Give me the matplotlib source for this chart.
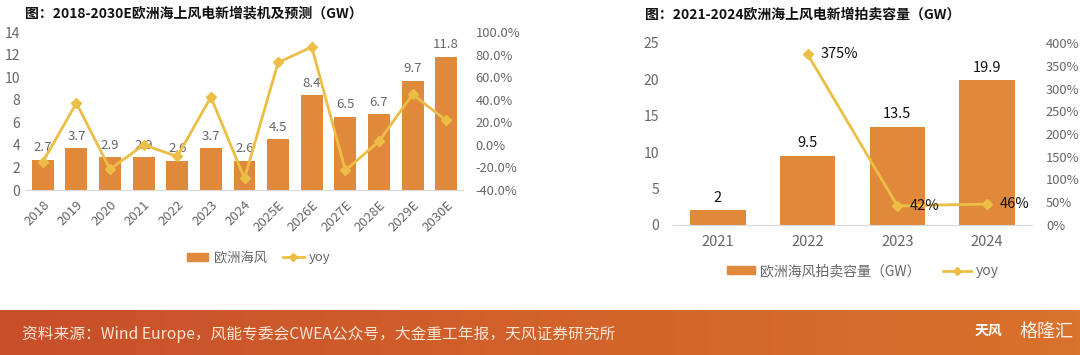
import numpy as np
import matplotlib
matplotlib.use("Agg")
import matplotlib.pyplot as plt
from matplotlib.patches import Patch
from matplotlib.lines import Line2D
from matplotlib.ticker import FuncFormatter
from matplotlib.colors import LinearSegmentedColormap

plt.rcParams['font.family'] = ['Noto Sans CJK SC', 'DejaVu Sans']

# left chart: new offshore installations in Europe (GW) and yoy
years_l = ["2018", "2019", "2020", "2021", "2022", "2023", "2024",
           "2025E", "2026E", "2027E", "2028E", "2029E", "2030E"]
install_gw = [2.7, 3.7, 2.9, 2.9, 2.6, 3.7, 2.6, 4.5, 8.4, 6.5, 6.7, 9.7, 11.8]
install_yoy = [-0.15, 0.37, -0.216, 0.0, -0.103, 0.423, -0.297,
               0.73, 0.867, -0.226, 0.031, 0.448, 0.216]

# right chart: auction capacity (GW) and yoy
years_r = ["2021", "2022", "2023", "2024"]
auction_gw = [2, 9.5, 13.5, 19.9]
auction_yoy = [np.nan, 3.75, 0.42, 0.46]
auction_yoy_lbl = ["", "375%", "42%", "46%"]

BAR = "#E0893A"
LINE = "#EDBE45"
GREY = "#666666"
W, H = 1080, 355

fig = plt.figure(figsize=(W / 100, H / 100), dpi=100)


def px_axes(x0, x1, ytop, ybot):
    return fig.add_axes([x0 / W, (H - ybot) / H, (x1 - x0) / W, (ybot - ytop) / H])


def clean(ax):
    for s in ax.spines.values():
        s.set_visible(False)
    ax.tick_params(length=0, colors=GREY)


# ---------- left chart ----------
ax1 = px_axes(26, 463, 32, 190)
x1 = np.arange(len(years_l))
ax1.bar(x1, install_gw, width=0.65, color=BAR, zorder=2)
for xi, v in zip(x1, install_gw):
    ax1.annotate(f"{v}", (xi, v), xytext=(0, 4), textcoords="offset points",
                 ha="center", va="bottom", fontsize=9.5, color=GREY)
ax1.set_xlim(-0.5, len(years_l) - 0.5)
ax1.set_ylim(0, 14)
ax1.set_yticks(range(0, 15, 2))
ax1.set_xticks(x1)
ax1.set_xticklabels(years_l, rotation=45, ha="right", rotation_mode="anchor")
clean(ax1)
ax1.spines['bottom'].set_visible(True)
ax1.spines['bottom'].set_color("#D9D9D9")
ax1.tick_params(axis="y", labelsize=10, pad=4)
ax1.tick_params(axis="x", labelsize=9.5, pad=6)

ax1b = ax1.twinx()
ax1b.plot(x1, install_yoy, color=LINE, lw=2, marker="D", ms=5, zorder=3)
ax1b.set_ylim(-0.4, 1.0)
ax1b.set_yticks(np.arange(-0.4, 1.01, 0.2))
ax1b.yaxis.set_major_formatter(FuncFormatter(lambda v, p: f"{v * 100:.1f}%"))
clean(ax1b)
ax1b.tick_params(axis="y", labelsize=9.3, pad=9)

fig.text(25 / W, (H - 13) / H, "图：2018-2030E欧洲海上风电新增装机及预测（GW）",
         fontsize=10, fontweight="bold", color="#111111", va="center")

fig.legend(handles=[Patch(color=BAR, label="欧洲海风"),
                    Line2D([], [], color=LINE, lw=2, marker="D", ms=4, label="yoy")],
           loc="center", bbox_to_anchor=(259 / W, (H - 258) / H), ncol=2,
           frameon=False, fontsize=9.5, handlelength=1.6, handleheight=0.5,
           columnspacing=1.2, handletextpad=0.4, labelcolor=GREY)

# ---------- right chart ----------
ax2 = px_axes(673, 1032, 43, 225)
x2 = np.arange(len(years_r))
ax2.bar(x2, auction_gw, width=0.62, color=BAR, zorder=2)
for xi, v in zip(x2, auction_gw):
    ax2.annotate(f"{v}", (xi, v), xytext=(0, 4), textcoords="offset points",
                 ha="center", va="bottom", fontsize=10.5, color="#111111")
ax2.set_xlim(-0.5, len(years_r) - 0.5)
ax2.set_ylim(0, 25)
ax2.set_yticks(range(0, 26, 5))
ax2.set_xticks(x2)
ax2.set_xticklabels(years_r)
clean(ax2)
ax2.spines['bottom'].set_visible(True)
ax2.spines['bottom'].set_color("#D9D9D9")
ax2.tick_params(axis="y", labelsize=10, pad=10)
ax2.tick_params(axis="x", labelsize=10.5, pad=7)

ax2b = ax2.twinx()
ax2b.plot(x2, auction_yoy, color=LINE, lw=2, marker="D", ms=5, zorder=3)
for xi, v, t in zip(x2, auction_yoy, auction_yoy_lbl):
    if t:
        ax2b.annotate(t, (xi, v), xytext=(9, 0), textcoords="offset points",
                      ha="left", va="center", fontsize=10.5, color="#111111")
ax2b.set_ylim(0, 4.0)
ax2b.set_yticks(np.arange(0, 4.01, 0.5))
ax2b.yaxis.set_major_formatter(FuncFormatter(lambda v, p: f"{v * 100:.0f}%"))
clean(ax2b)
ax2b.tick_params(axis="y", labelsize=9.3, pad=10)

fig.text(645 / W, (H - 15) / H, "图：2021-2024欧洲海上风电新增拍卖容量（GW）",
         fontsize=10, fontweight="bold", color="#111111", va="center")

fig.legend(handles=[Patch(color=BAR, label="欧洲海风拍卖容量（GW）"),
                    Line2D([], [], color=LINE, lw=2, marker="D", ms=4, label="yoy")],
           loc="center", bbox_to_anchor=(863 / W, (H - 271) / H), ncol=2,
           frameon=False, fontsize=10, handlelength=2.0, handleheight=0.5,
           columnspacing=1.6, handletextpad=0.4, labelcolor=GREY)

# ---------- footer banner ----------
band = fig.add_axes([0, 0, 1, (H - 310) / H])
grad = np.linspace(0, 1, 256).reshape(1, -1)
cmap = LinearSegmentedColormap.from_list("band", ["#C84E2A", "#D2622A", "#D9722C"])
band.imshow(grad, aspect="auto", cmap=cmap, extent=[0, 1, 0, 1])
band.set_axis_off()
fig.text(22 / W, (H - 334) / H,
         "资料来源：Wind Europe，风能专委会CWEA公众号，大金重工年报，天风证券研究所",
         fontsize=11.3, color="#FCE6D6", va="center")
fig.text(975 / W, (H - 331) / H, "天风", fontsize=10, fontweight="bold",
         color="white", va="center")
fig.text(1020 / W, (H - 332) / H, "格隆汇", fontsize=13, color="white",
         va="center", alpha=0.9)

fig.savefig("out.png", dpi=100)
